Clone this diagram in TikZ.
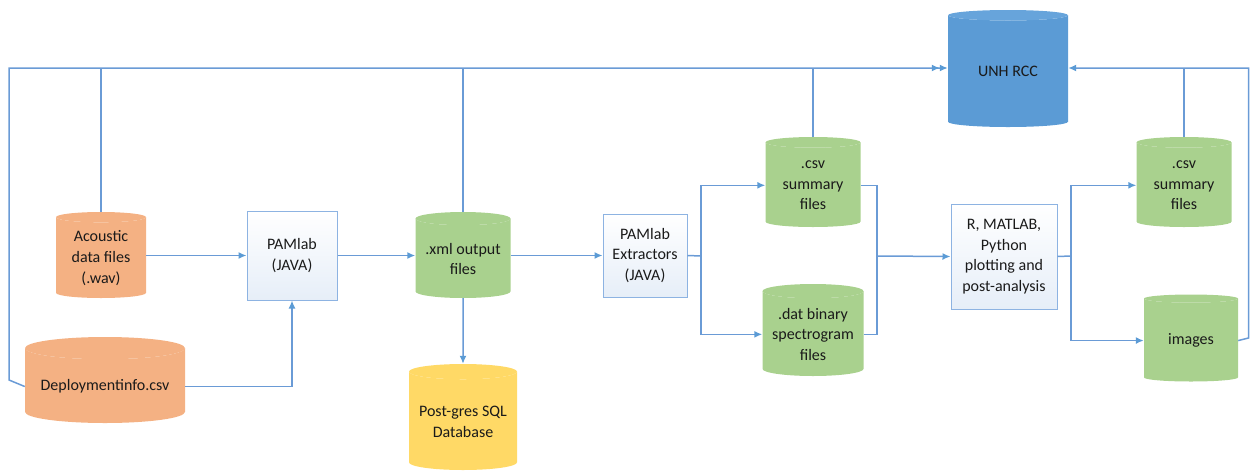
\documentclass[tikz,border=0pt]{standalone}
\usepackage{fontspec}
\setmainfont{Carlito}
\usetikzlibrary{shapes.geometric,arrows.meta}
\definecolor{ln}{HTML}{6A9BD6}
\definecolor{tipc}{HTML}{5B9BD5}
\definecolor{txt}{HTML}{1A1A1A}
\definecolor{orangeC}{HTML}{F4B183}
\definecolor{greenC}{HTML}{A9D18E}
\definecolor{yellowC}{HTML}{FFD966}
\definecolor{blueC}{HTML}{5B9BD5}
\definecolor{blueTop}{HTML}{67A4DB}
\definecolor{boxline}{HTML}{8DB3E2}
\definecolor{boxbot}{HTML}{E6EEF8}
\begin{document}
\begin{tikzpicture}[x=1pt,y=-1pt,
  every node/.style={font=\fontsize{16}{20.7}\selectfont, text=txt, align=center, inner sep=1pt},
  db/.style={cylinder, shape border rotate=90, aspect=0.17, draw=none, anchor=shape center,
    cylinder uses custom fill, cylinder body fill=#1, cylinder end fill=#1},
  proc/.style={rectangle, draw=boxline, line width=1pt, top color=white, bottom color=boxbot},
  conn/.style={draw=ln, line width=1.5pt},
  arr/.style={conn, -{Latex[length=8pt,width=7pt,color=tipc]}},
  darr/.style={conn, -{Latex[length=8pt,width=7pt,color=tipc] Latex[length=8pt,width=7pt,color=tipc]}},
]
\useasboundingbox (0,0) rectangle (1250,472);

% nodes
\node[db=orangeC, minimum width=90pt, minimum height=86pt] (acoustic) at (101,255) {Acoustic\\data files\\(.wav)};
\node[db=orangeC, minimum width=160pt, minimum height=86pt] (deploy) at (105,380) {Deploymentinfo.csv};
\node[proc, minimum width=90pt, minimum height=89pt] (pamlab) at (292,255.5) {PAMlab\\(JAVA)};
\node[db=greenC, minimum width=95pt, minimum height=86pt] (xml) at (463,255) {.xml output\\files};
\node[db=yellowC, minimum width=108pt, minimum height=106pt] (pg) at (463,417) {Post-gres SQL\\Database};
\node[proc, minimum width=84pt, minimum height=83pt] (ext) at (645,255.5) {PAMlab\\Extractors\\(JAVA)};
\node[db=greenC, minimum width=95pt, minimum height=90pt] (csv1) at (813,182) {.csv\\summary\\files};
\node[db=greenC, minimum width=101pt, minimum height=92pt] (dat) at (813,330) {.dat binary\\spectrogram\\files};
\node[db=blueC, cylinder end fill=blueTop, minimum width=120pt, minimum height=117pt] (unh) at (1008,68.5) {UNH RCC};
\node[proc, minimum width=106pt, minimum height=105pt] (rbox) at (1004,256.5) {R, MATLAB,\\Python\\plotting and\\post-analysis};
\node[db=greenC, minimum width=95pt, minimum height=90pt] (csv2) at (1184,182) {.csv\\summary\\files};
\node[db=greenC, minimum width=94pt, minimum height=87pt] (img) at (1191,338) {images};

% helper coordinates
\coordinate (tl) at (9,68);
\coordinate (bl) at (9,380);
\coordinate (j1) at (701,256);
\coordinate (j2) at (877,256);
\coordinate (j3) at (1071,256);
\coordinate (rt) at (1248.5,68);
\coordinate (rb) at (1248.5,338);

% top bus
\draw[darr] (deploy.west) -- (bl) -- (tl) -- (tl -| unh.west);
\draw[conn] (acoustic.north) -- (acoustic.north |- tl);
\draw[conn] (xml.north) -- (xml.north |- tl);
\draw[conn] (csv1.north) -- (csv1.north |- tl);
\draw[arr] (img.east) -- (rb) -- (rt) -- (rt -| unh.east);
\draw[conn] (csv2.north) -- (csv2.north |- rt);

% main flow
\draw[arr] (acoustic.east |- pamlab.west) -- (pamlab.west);
\draw[arr] (deploy.east) -| (pamlab.south);
\draw[arr] (pamlab.east) -- (xml.west |- pamlab.east);
\draw[arr] (xml.south) -- (pg.north);
\draw[arr] (xml.east |- ext.west) -- (ext.west);
\draw[conn] (ext.east) -- (j1);
\draw[arr] (j1) |- (csv1.west);
\draw[arr] (j1) |- (dat.west);
\draw[conn] (csv1.east) -| (j2);
\draw[conn] (dat.east) -| (j2);
\draw[arr] (j2) -- (rbox.west);
\draw[conn] (rbox.east) -- (j3);
\draw[arr] (j3) |- (csv2.west);
\draw[arr] (j3) |- (img.west);
\end{tikzpicture}
\end{document}
